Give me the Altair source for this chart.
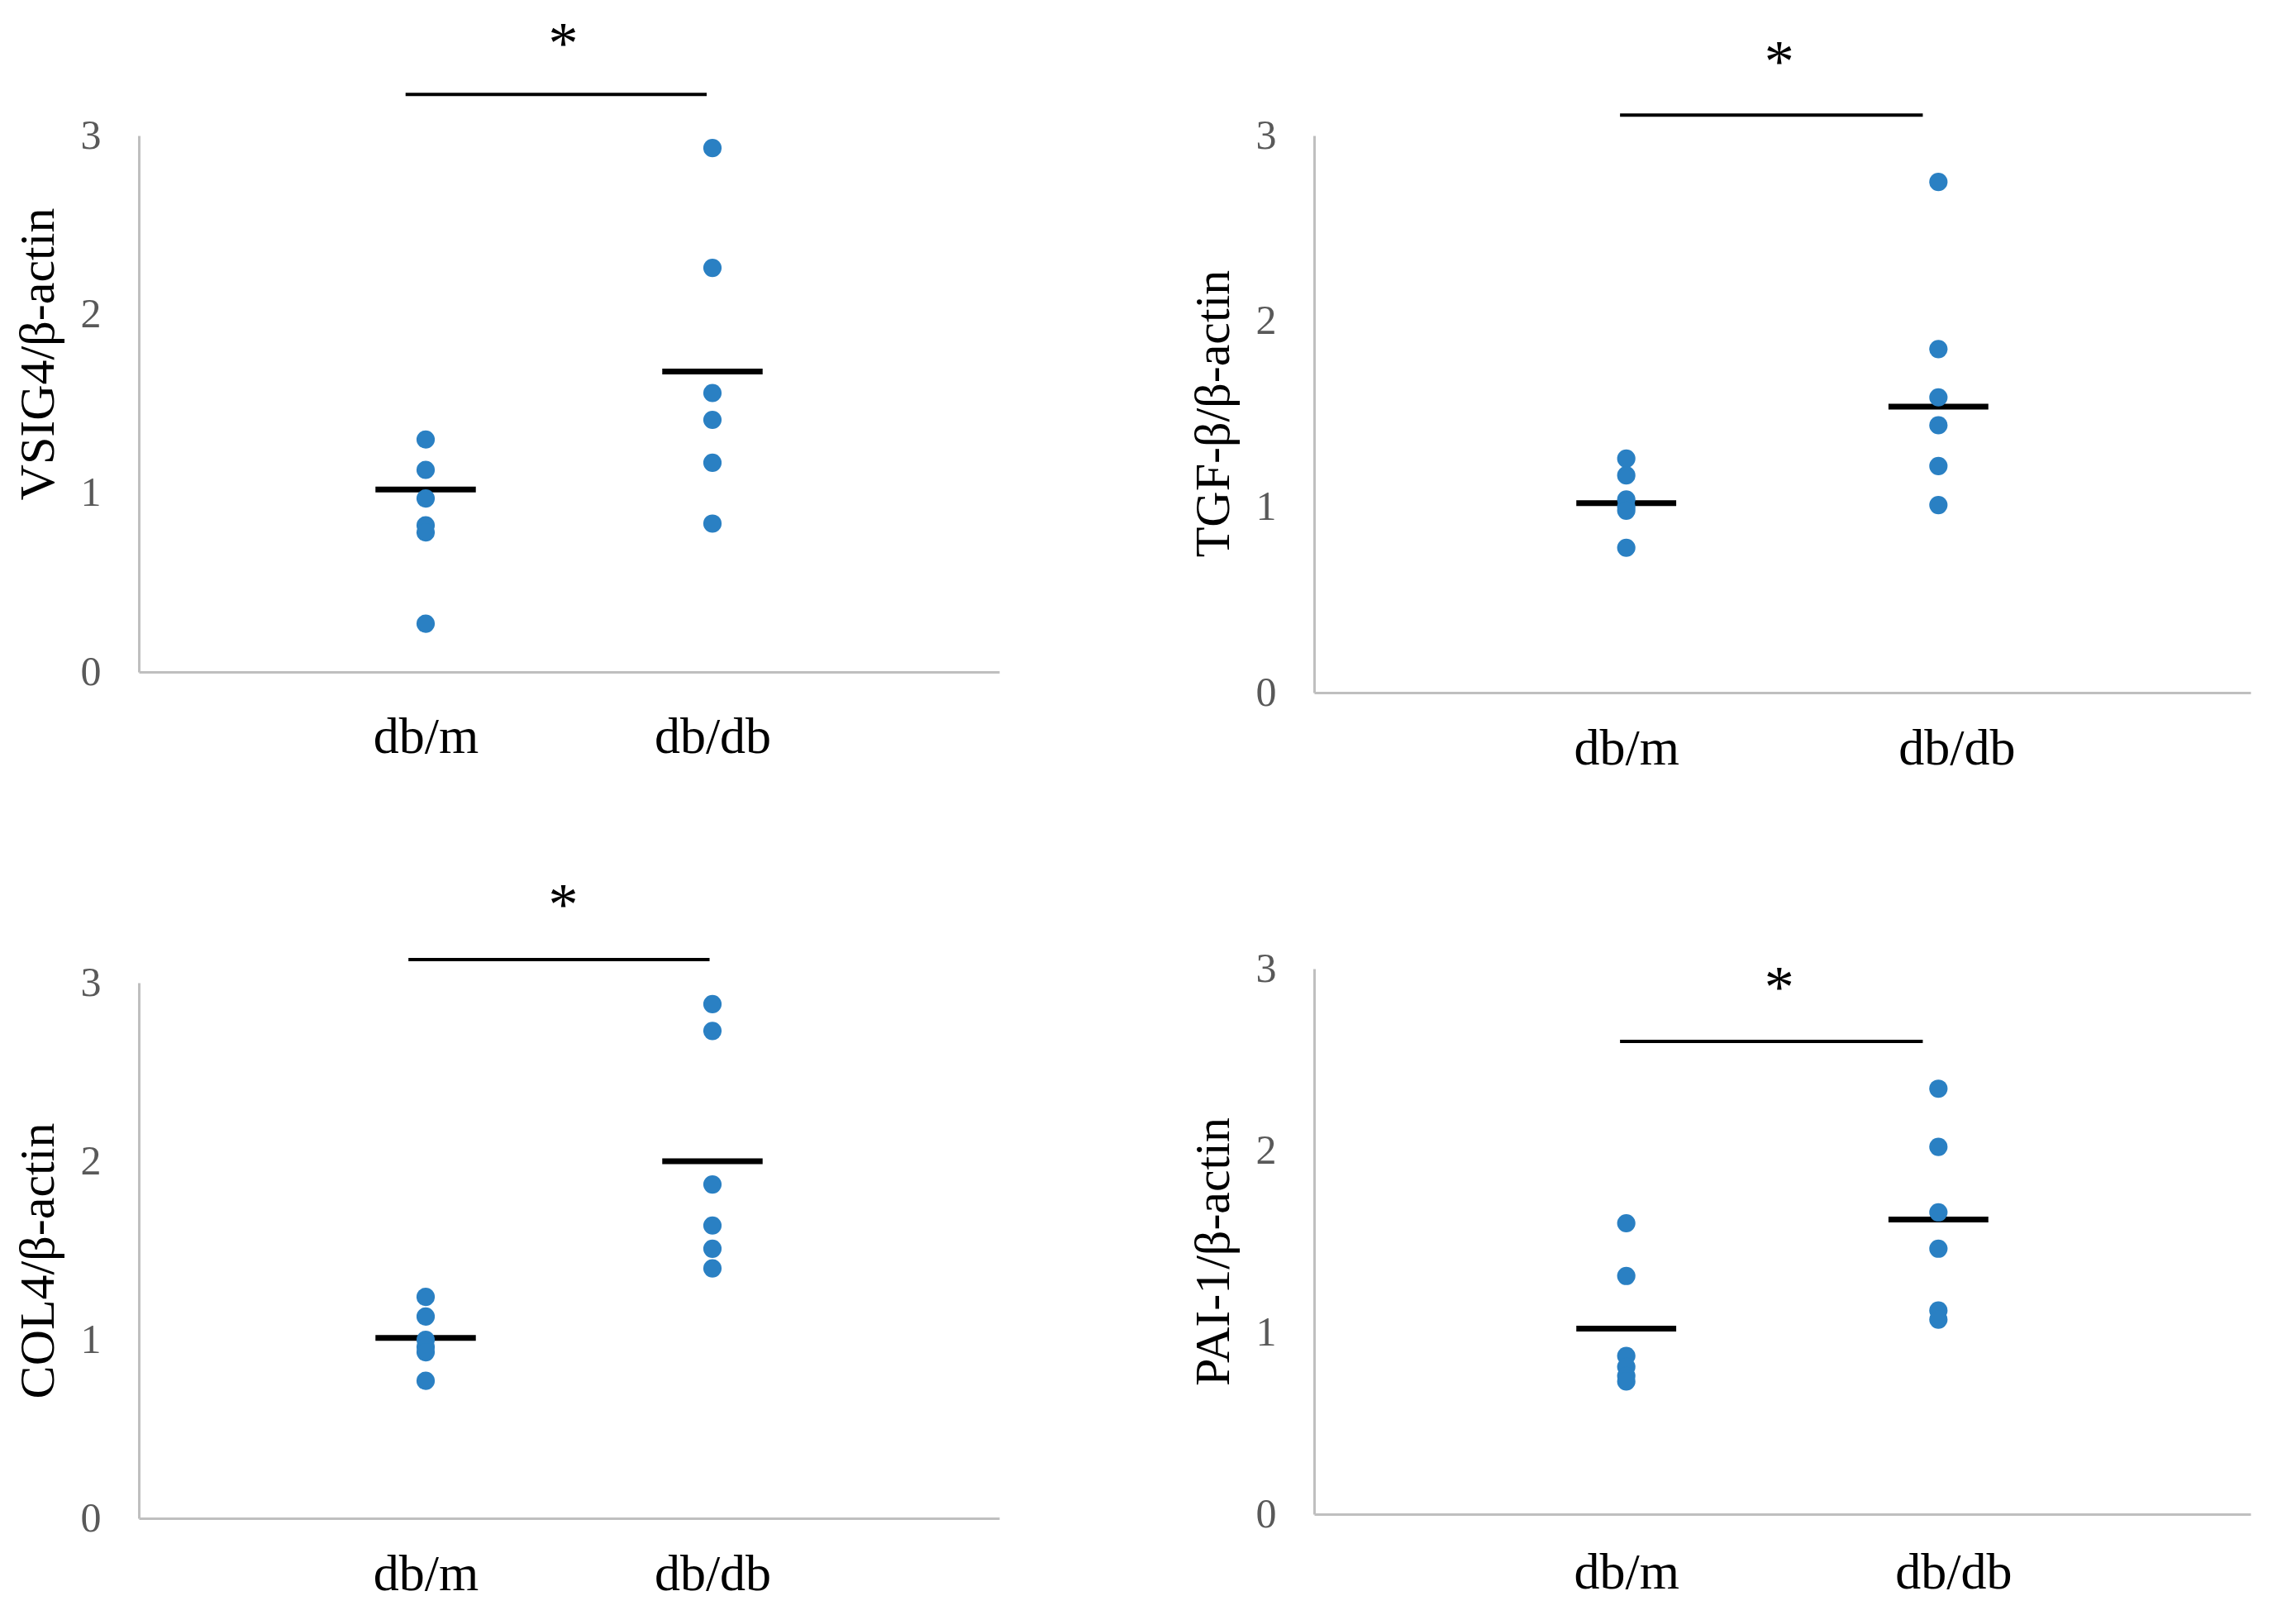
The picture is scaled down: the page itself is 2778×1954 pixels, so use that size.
import altair as alt
import pandas as pd

groups = ["db/m", "db/db"]
group_pos = [1, 2]

titles = ["VSIG4/β-actin", "TGF-β/β-actin", "COL4/β-actin", "PAI-1/β-actin"]

vsig4_dbm = [1.30, 1.13, 0.97, 0.82, 0.78, 0.27]
vsig4_dbdb = [2.93, 2.26, 1.56, 1.41, 1.17, 0.83]
vsig4_mean = [1.02, 1.68]

tgfb_dbm = [1.26, 1.17, 1.04, 1.00, 0.98, 0.78]
tgfb_dbdb = [2.75, 1.85, 1.59, 1.44, 1.22, 1.01]
tgfb_mean = [1.02, 1.54]

col4_dbm = [1.24, 1.13, 1.00, 0.96, 0.93, 0.77]
col4_dbdb = [2.88, 2.73, 1.87, 1.64, 1.51, 1.40]
col4_mean = [1.01, 2.00]

pai1_dbm = [1.60, 1.31, 0.87, 0.81, 0.76, 0.73]
pai1_dbdb = [2.34, 2.02, 1.66, 1.46, 1.12, 1.07]
pai1_mean = [1.02, 1.62]

# significance bar (y level, x start, x end) and star (y, x)
sig_y = [3.23, 3.11, 3.13, 2.60]
sig_x = [[0.93, 1.98], [0.98, 1.95], [0.94, 1.99], [0.98, 1.95]]
star_y = [3.56, 3.44, 3.48, 2.94]
star_x = [1.48, 1.49, 1.48, 1.49]

y_ticks = [0, 1, 2, 3]

SERIF = "Liberation Serif"
DOT = "#2A80C3"
AXIS_GREY = "#BFBFBF"

label_expr = " : ".join(
    f"datum.value == {p} ? '{g}'" for p, g in zip(group_pos[:-1], groups[:-1])
) + f" : '{groups[-1]}'"


def panel(i, dbm, dbdb, means, w, h, hw, title_y, xpad, top_gap=0, db_shift=0):
    pts = pd.DataFrame(
        {"x": [group_pos[0]] * len(dbm) + [group_pos[1]] * len(dbdb),
         "y": dbm + dbdb}
    )
    mean_df = pd.DataFrame(
        {"x": [p - hw for p in group_pos], "x2": [p + hw for p in group_pos], "y": means}
    )
    sig_df = pd.DataFrame({"x": [sig_x[i][0]], "x2": [sig_x[i][1]], "y": [sig_y[i]]})
    star_df = pd.DataFrame({"x": [star_x[i]], "y": [star_y[i]], "t": ["*"]})

    xs = alt.Scale(domain=[0, 3], nice=False, zero=False)
    if top_gap:
        ys = alt.Scale(domain=[0, 3], nice=False, zero=False, range=[h, top_gap])
    else:
        ys = alt.Scale(domain=[0, 3], nice=False, zero=False)

    xaxis_kw = dict(
        values=group_pos, labelExpr=label_expr, title=None, grid=False, ticks=False,
        domainColor=AXIS_GREY, domainWidth=3, labelFont=SERIF, labelFontSize=62,
        labelColor="black", labelPadding=xpad,
    )
    if db_shift:
        xaxis_kw["labelOffset"] = alt.condition(
            f"datum.value == {group_pos[1]}", alt.value(db_shift), alt.value(0)
        )
    xaxis = alt.Axis(**xaxis_kw)
    yaxis = alt.Axis(
        values=y_ticks, format="d", title=titles[i], grid=False, ticks=False,
        domainColor=AXIS_GREY, domainWidth=3, labelFont=SERIF, labelFontSize=50,
        labelColor="#595959", labelPadding=46, titleFont=SERIF, titleFontSize=60,
        titleFontWeight="normal", titleColor="black", titleX=-122, titleY=title_y,
        titleBaseline="middle", titleAngle=270,
    )

    points = alt.Chart(pts).mark_circle(size=490, opacity=1, color=DOT).encode(
        x=alt.X("x:Q", scale=xs, axis=xaxis),
        y=alt.Y("y:Q", scale=ys, axis=yaxis),
    )
    mean_lines = alt.Chart(mean_df).mark_rule(color="black", strokeWidth=7).encode(
        x=alt.X("x:Q", scale=xs), x2="x2:Q", y=alt.Y("y:Q", scale=ys)
    )
    sig_line = alt.Chart(sig_df).mark_rule(color="black", strokeWidth=4).encode(
        x=alt.X("x:Q", scale=xs), x2="x2:Q", y=alt.Y("y:Q", scale=ys)
    )
    star = alt.Chart(star_df).mark_text(
        font=SERIF, fontSize=72, color="black", baseline="alphabetic", dy=33
    ).encode(x=alt.X("x:Q", scale=xs), y=alt.Y("y:Q", scale=ys), text="t:N")

    return alt.layer(mean_lines, points, sig_line, star).properties(width=w, height=h)


p1 = panel(0, vsig4_dbm, vsig4_dbdb, vsig4_mean, 1041, 649, 0.175, 264, 48)
p2 = panel(1, tgfb_dbm, tgfb_dbdb, tgfb_mean, 1133, 674, 0.16, 336, 37, db_shift=22)
p3 = panel(2, col4_dbm, col4_dbdb, col4_mean, 1041, 665, 0.175, 353, 37, top_gap=17)
p4 = panel(3, pai1_dbm, pai1_dbdb, pai1_mean, 1133, 660, 0.16, 342, 40, db_shift=18)

chart = alt.concat(
    p1, p2, p3, p4, columns=2, bounds="flush", spacing={"row": 334, "column": 381}
).properties(
    padding={"left": 7, "top": 9, "right": 0, "bottom": 0}, background="white"
).configure_view(stroke="transparent")

chart.save("out.html", embed_options={"renderer": "svg", "actions": False})
